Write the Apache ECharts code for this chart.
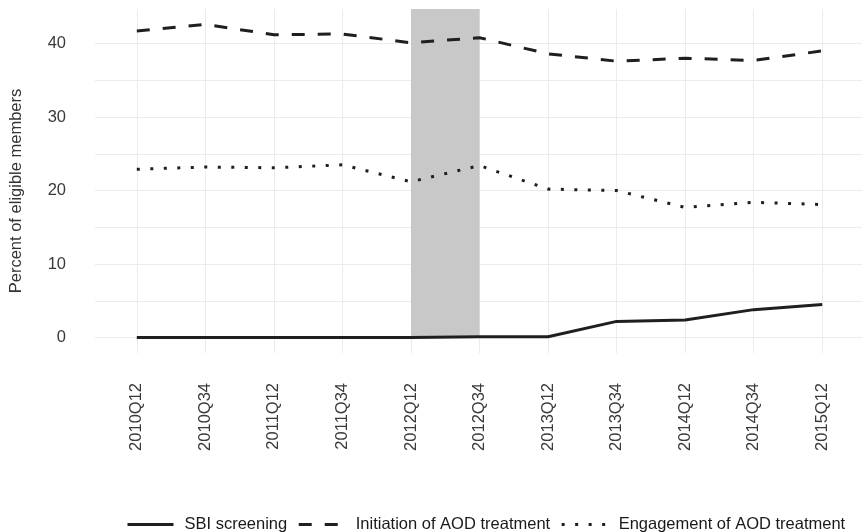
<!DOCTYPE html>
<html>
<head>
<meta charset="utf-8">
<script src="https://cdn.jsdelivr.net/npm/echarts@6/dist/echarts.min.js"></script>
<style>
html,body{margin:0;padding:0;background:#fff;}
#chart{width:862px;height:532px;}
</style>
</head>
<body>
<div id="chart"></div>
<script>
var categories = ['2010Q12','2010Q34','2011Q12','2011Q34','2012Q12','2012Q34','2013Q12','2013Q34','2014Q12','2014Q34','2015Q12'];
var sbiScreening = [0, 0, 0, 0, 0, 0.1, 0.1, 2.2, 2.4, 3.8, 4.5];
var initiationAOD = [41.7, 42.6, 41.2, 41.3, 40.1, 40.8, 38.6, 37.6, 38.0, 37.7, 39.0];
var engagementAOD = [22.9, 23.2, 23.1, 23.5, 21.2, 23.4, 20.2, 20.0, 17.7, 18.4, 18.1];
var seriesNames = ['SBI screening', 'Initiation of AOD treatment', 'Engagement of AOD treatment'];
var yTickLabels = [0, 10, 20, 30, 40];
var yGridValues = [0, 5, 10, 15, 20, 25, 30, 35, 40];
var shadeStart = '2012Q12';
var shadeEnd = '2012Q34';
var yMin = -2.1, yMax = 44.7;

function toPairs(arr) { return arr.map(function (v, i) { return [i, v]; }); }
var catIdx = categories.map(function (c, i) { return i; });

var font = "'Liberation Sans', Arial, sans-serif";
var chart = echarts.init(document.getElementById('chart'));
chart.setOption({
  animation: false,
  backgroundColor: '#ffffff',
  textStyle: { fontFamily: font },
  grid: { left: 95, right: 0, top: 9, bottom: 179, containLabel: false },
  xAxis: {
    type: 'value',
    min: -0.61,
    max: 10.58,
    axisLine: { show: false },
    axisTick: { show: false, customValues: catIdx },
    splitLine: { show: true, lineStyle: { color: '#ebebeb', width: 1 } },
    axisLabel: {
      customValues: catIdx,
      rotate: 90,
      margin: 30,
      fontSize: 16.5,
      color: '#3a3a3a',
      fontFamily: font,
      formatter: function (v) { return categories[Math.round(v)]; }
    }
  },
  yAxis: {
    type: 'value',
    min: yMin,
    max: yMax,
    name: 'Percent of eligible members',
    nameLocation: 'middle',
    nameGap: 70,
    nameTextStyle: { fontSize: 16.5, color: '#333', fontFamily: font, padding: [0, 0, 0, -20] },
    axisLine: { show: false },
    axisTick: { show: false, customValues: yGridValues },
    splitLine: { show: true, lineStyle: { color: '#ebebeb', width: 1 } },
    axisLabel: {
      customValues: yTickLabels,
      margin: 29,
      fontSize: 16.5,
      color: '#3a3a3a',
      fontFamily: font
    }
  },
  legend: {
    data: seriesNames,
    left: 121,
    top: 511,
    itemWidth: 46,
    itemHeight: 14,
    itemGap: 10,
    itemStyle: { color: 'rgba(0,0,0,0)', borderWidth: 0, opacity: 0 },
    lineStyle: { width: 3 },
    textStyle: { fontSize: 16.5, color: '#1a1a1a', fontFamily: font, padding: [0, 0, 0, 6] }
  },
  series: [
    {
      name: seriesNames[0],
      type: 'line',
      data: toPairs(sbiScreening),
      symbol: 'none',
      z: 3,
      lineStyle: { color: '#1f1f1f', width: 3, type: 'solid' },
      itemStyle: { color: '#1f1f1f' }
    },
    {
      name: seriesNames[1],
      type: 'line',
      data: toPairs(initiationAOD),
      symbol: 'none',
      z: 3,
      lineStyle: { color: '#1f1f1f', width: 3, type: [13, 13], cap: 'butt' },
      itemStyle: { color: '#1f1f1f' }
    },
    {
      name: seriesNames[2],
      type: 'line',
      data: toPairs(engagementAOD),
      symbol: 'none',
      z: 3,
      lineStyle: { color: '#1f1f1f', width: 3, type: [3, 10.5], cap: 'butt' },
      itemStyle: { color: '#1f1f1f' }
    },
    {
      name: 'shade',
      type: 'line',
      data: [],
      z: 1,
      silent: true,
      markArea: {
        silent: true,
        itemStyle: { color: '#c8c8c8' },
        data: [[
          { xAxis: categories.indexOf(shadeStart), yAxis: 0 },
          { xAxis: categories.indexOf(shadeEnd), yAxis: yMax }
        ]]
      }
    }
  ]
});
</script>
</body>
</html>
